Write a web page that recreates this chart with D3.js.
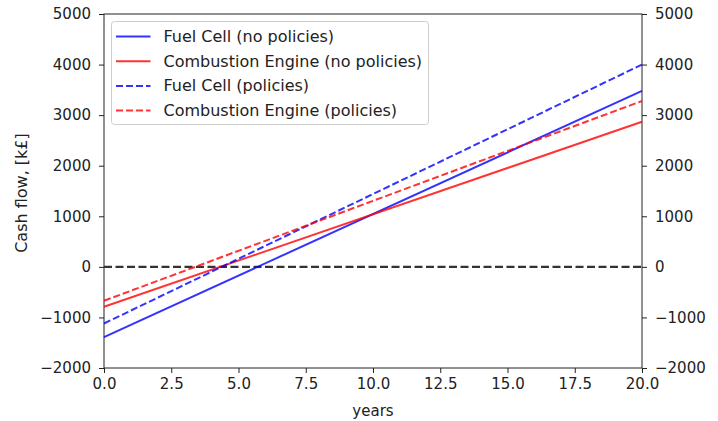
<!DOCTYPE html>
<html lang="en">
<head>
<meta charset="UTF-8"/>
<title>Cash flow</title>
<script src="https://d3js.org/d3.v7.min.js"></script>
<style>
	body { margin:0; background:#fff; }
	text { font-family:"DejaVu Sans", sans-serif; }
</style>
</head>
<body>
<script>
	var w = 718;
	var h = 421;
	var margin = {top:14, right:76, bottom:53, left:104};

	// data: value at year 0 and year 20
	var years = [0, 20];
	var fuelNoPol = [-1390, 3480];
	var combNoPol = [-790, 2870];
	var fuelPol = [-1120, 4000];
	var combPol = [-670, 3280];

	var seriesNames = ["Fuel Cell (no policies)", "Combustion Engine (no policies)",
		"Fuel Cell (policies)", "Combustion Engine (policies)"];
	var seriesColors = ["blue", "red", "blue", "red"];
	var seriesDash = [null, null, "7,3", "7,3"];
	var seriesValues = [fuelNoPol, combNoPol, fuelPol, combPol];

	var xTicks = [0, 2.5, 5, 7.5, 10, 12.5, 15, 17.5, 20];
	var yTicks = [-2000, -1000, 0, 1000, 2000, 3000, 4000, 5000];

	var xScale = d3.scaleLinear()
		.domain([0, 20])
		.range([margin.left, w - margin.right]);
	var yScale = d3.scaleLinear()
		.domain([-2000, 5000])
		.range([h - margin.bottom, margin.top]);

	var svg = d3.select("body")
		.append("svg")
		.attr("width", w)
		.attr("height", h);

	//---------- axes ----------
	var fmtX = d3.format(".1f");
	var fmtY = function(d){ return d < 0 ? "\u2212" + (-d) : d; };
	svg.append("g")
		.attr("transform", "translate(0," + (h - margin.bottom) + ")")
		.call(d3.axisBottom(xScale).tickValues(xTicks).tickFormat(fmtX).tickSizeOuter(0).tickSize(5).tickPadding(5));
	svg.append("g")
		.attr("transform", "translate(" + margin.left + ",0)")
		.call(d3.axisLeft(yScale).tickValues(yTicks).tickFormat(fmtY).tickSizeOuter(0).tickSize(5).tickPadding(8));
	svg.append("g")
		.attr("transform", "translate(" + (w - margin.right) + ",0)")
		.call(d3.axisRight(yScale).tickValues(yTicks).tickFormat(fmtY).tickSizeOuter(0).tickSize(5).tickPadding(8));

	svg.selectAll(".tick text").attr("font-size", 15).attr("fill", "#222").attr("font-family", "DejaVu Sans");
	svg.selectAll(".tick line").attr("stroke", "#222");
	svg.selectAll(".domain").remove();

	// frame
	svg.append("rect")
		.attr("x", margin.left)
		.attr("y", margin.top)
		.attr("width", w - margin.left - margin.right)
		.attr("height", h - margin.top - margin.bottom)
		.attr("fill", "none")
		.attr("stroke", "#222")
		.attr("stroke-width", 1);

	// zero line
	svg.append("line")
		.attr("x1", xScale(0)).attr("x2", xScale(20))
		.attr("y1", yScale(0)).attr("y2", yScale(0))
		.attr("stroke", "#333")
		.attr("stroke-width", 2.2)
		.attr("stroke-dasharray", "8,3.5");

	//---------- lines ----------
	var line = d3.line()
		.x(function(d, i){ return xScale(years[i]); })
		.y(function(d){ return yScale(d); });

	seriesValues.forEach(function(vals, k){
		svg.append("path")
			.datum(vals)
			.attr("d", line)
			.attr("fill", "none")
			.attr("stroke", seriesColors[k])
			.attr("stroke-opacity", 0.8)
			.attr("stroke-width", 2)
			.attr("stroke-dasharray", seriesDash[k]);
	});

	//---------- legend ----------
	var leg = svg.append("g").attr("transform", "translate(111.5,21.5)");
	leg.append("rect")
		.attr("width", 317).attr("height", 103)
		.attr("rx", 3)
		.attr("fill", "#fff").attr("fill-opacity", 0.8)
		.attr("stroke", "#ccc");
	seriesNames.forEach(function(name, k){
		var y = 15 + k * 24.7;
		leg.append("line")
			.attr("x1", 4.5).attr("x2", 39)
			.attr("y1", y).attr("y2", y)
			.attr("stroke", seriesColors[k])
			.attr("stroke-opacity", 0.8)
			.attr("stroke-width", 2)
			.attr("stroke-dasharray", seriesDash[k]);
		leg.append("text")
			.attr("x", 52).attr("y", y + 5.5)
			.attr("font-size", 16)
			.attr("fill", "#222")
			.text(name);
	});

	//---------- axis labels ----------
	svg.append("text")
		.attr("x", xScale(10)).attr("y", 415.5)
		.attr("text-anchor", "middle")
		.attr("font-size", 15)
		.attr("fill", "#222")
		.text("years");
	svg.append("text")
		.attr("transform", "translate(27," + yScale(1460) + ") rotate(-90)")
		.attr("text-anchor", "middle")
		.attr("font-size", 16)
		.attr("fill", "#222")
		.text("Cash flow, [k\u00a3]");
</script>
</body>
</html>
